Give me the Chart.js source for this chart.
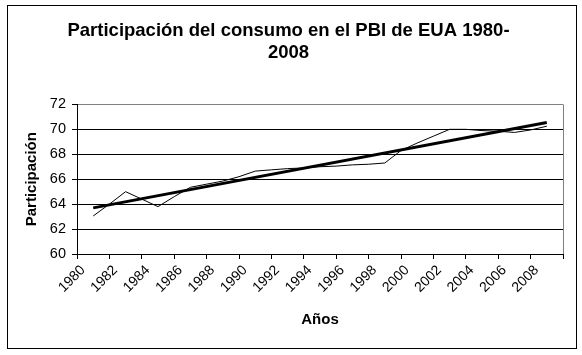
<!DOCTYPE html>
<html><head><meta charset="utf-8">
<script src="https://cdn.jsdelivr.net/npm/chart.js@4/dist/chart.umd.min.js"></script>
<style>
html,body{margin:0;padding:0;background:#fff;}
#wrap{position:relative;width:582px;height:355px;overflow:hidden;}
#frame{position:absolute;left:7px;top:5px;width:568px;height:342px;border:1px solid #000;pointer-events:none;}
canvas{position:absolute;left:0;top:0;}
</style></head><body>
<div id="wrap"><canvas id="c" width="582" height="355"></canvas><div id="frame"></div></div>
<script>
const titleLines = ['Participación del consumo en el PBI de EUA 1980-', '2008'];
const xTitle = 'Años';
const yTitle = 'Participación';
const years = [1981,1982,1983,1984,1985,1986,1987,1988,1989,1990,1991,1992,1993,1994,1995,1996,1997,1998,1999,2000,2001,2002,2003,2004,2005,2006,2007,2008,2009];
const participation = [63.05,64.0,65.0,64.4,63.8,64.6,65.35,65.6,65.85,66.2,66.65,66.75,66.85,66.9,67.0,67.05,67.15,67.2,67.3,68.3,68.9,69.45,70.0,70.0,69.9,69.85,69.75,69.95,70.25];
const trendYears = [1981, 2009];
const trendValues = [63.7, 70.55];
const yMin = 60, yMax = 72, yStep = 2;
const xMin = 1980, xMax = 2010, xStep = 2;

const FONT = "'Liberation Sans', Arial, sans-serif";
const seriesPts = years.map((y, i) => ({x: y, y: participation[i]}));
const trendPts = trendYears.map((y, i) => ({x: y, y: trendValues[i]}));

new Chart(document.getElementById('c'), {
  type: 'line',
  data: {
    datasets: [
      {data: seriesPts, borderColor: '#000', borderWidth: 1, pointRadius: 0, tension: 0, fill: false},
      {data: trendPts, borderColor: '#000', borderWidth: 3, pointRadius: 0, tension: 0, fill: false}
    ]
  },
  options: {
    responsive: false,
    animation: false,
    layout: {padding: {left: 14, right: 19, top: 5, bottom: 18}},
    plugins: {
      legend: {display: false},
      tooltip: {enabled: false},
      title: {
        display: true,
        text: titleLines,
        color: '#000',
        font: {family: FONT, size: 18.5, weight: 'bold', lineHeight: 1.2},
        padding: {top: 15, bottom: 40}
      }
    },
    scales: {
      x: {
        type: 'linear', min: xMin, max: xMax,
        afterFit: s => { s.height = 83; },
        ticks: {
          stepSize: xStep, autoSkip: false, minRotation: 45, maxRotation: 45,
          color: '#000', padding: 3, labelOffset: 6,
          font: {family: FONT, size: 14},
          callback: v => (v === xMax ? '' : String(v))
        },
        grid: {
          color: ctx => (ctx.tick && ctx.tick.value === xMax ? '#808080' : 'rgba(0,0,0,0)'),
          tickColor: '#000', tickLength: 5, lineWidth: 1
        },
        border: {color: '#000', width: 1},
        title: {display: true, text: xTitle, color: '#000', font: {family: FONT, size: 15, weight: 'bold'}, padding: {top: 0, bottom: 8}}
      },
      y: {
        min: yMin, max: yMax,
        afterFit: s => { s.width = 63; },
        ticks: {stepSize: yStep, color: '#000', padding: 6, font: {family: FONT, size: 14.5}},
        grid: {
          color: ctx => (ctx.tick && ctx.tick.value === yMax ? '#808080' : '#000'),
          tickColor: '#000', tickLength: 5, lineWidth: 1
        },
        border: {color: '#000', width: 1},
        title: {display: true, text: yTitle, color: '#000', font: {family: FONT, size: 15, weight: 'bold'}, padding: {top: 9, bottom: 0}}
      }
    }
  }
});
</script>
</body></html>
